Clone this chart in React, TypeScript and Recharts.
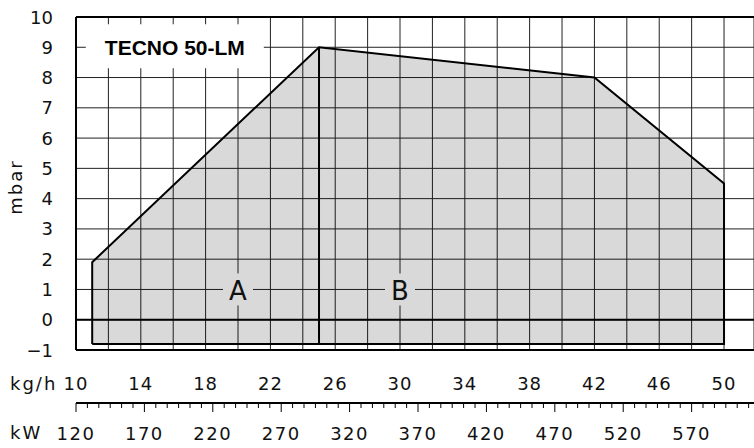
import React from "react";
import {
  Area,
  ComposedChart,
  CartesianGrid,
  Line,
  ReferenceDot,
  ReferenceLine,
  XAxis,
  YAxis,
} from "recharts";

// working field of the burner (kg/h vs mbar)
const envKg = [11, 25, 42, 50];
const envMbar = [1.9, 9, 8, 4.5];
const floorMbar = -0.8;
const splitKg = 25;

const kgGrid = [10, 12, 14, 16, 18, 20, 22, 24, 26, 28, 30, 32, 34, 36, 38, 40, 42, 44, 46, 48, 50];
const kgLabels = [10, 14, 18, 22, 26, 30, 34, 38, 42, 46, 50];
const mbarTicks = [-1, 0, 1, 2, 3, 4, 5, 6, 7, 8, 9, 10];
const kwMajor = [120, 170, 220, 270, 320, 370, 420, 470, 520, 570];

const zones = [
  { name: "A", kg: 20, mbar: 1 },
  { name: "B", kg: 30, mbar: 1 },
];
const title = "TECNO 50-LM";

const KG_MIN = 10;
const KG_MAX = 51.85;
const KW_MIN = 120;
const KW_MAX = 615.6;

const FONT = "'DejaVu Sans', 'Liberation Sans', sans-serif";
const INK = "#111";
const FILL = "#d9d9d9";

const envelope = envKg.map((kg, i) => ({ kg, mbar: envMbar[i] }));
const outline = [
  { kg: envKg[0], mbar: floorMbar },
  ...envelope,
  { kg: envKg[envKg.length - 1], mbar: floorMbar },
  { kg: envKg[0], mbar: floorMbar },
];

// minor kW ticks: 6 divisions per 50 kW
const kwTicks: number[] = [];
kwMajor.forEach((m) => {
  for (let i = 0; i < 6; i++) {
    const v = m + (i * 50) / 6;
    if (v <= KW_MAX) kwTicks.push(Math.round(v * 100) / 100);
  }
});
// empty series that only carries the kW range
const kwRange = [
  { kg: KW_MIN, none: null },
  { kg: KW_MAX, none: null },
];

const KgTick = (props: any) => {
  const { x, y, payload } = props;
  if (!kgLabels.includes(payload.value)) return <g />;
  return (
    <text x={x} y={y + 33} textAnchor="middle" dominantBaseline="central" fontFamily={FONT} fontSize={18} fill={INK} letterSpacing={1}>
      {payload.value}
    </text>
  );
};

const KwTick = (props: any) => {
  const { x, y, payload } = props;
  const major = kwMajor.includes(payload.value);
  return (
    <g>
      <line x1={x} x2={x} y1={y} y2={y + (major ? 9 : 5)} stroke="#000" strokeWidth={1} />
      {major && (
        <text x={x} y={y + 30} textAnchor="middle" dominantBaseline="central" fontFamily={FONT} fontSize={18} fill={INK} letterSpacing={1.5}>
          {payload.value}
        </text>
      )}
    </g>
  );
};

const MbarTick = (props: any) => {
  const { x, y, payload } = props;
  const v = payload.value;
  return (
    <text x={x - 23} y={y} textAnchor="end" dominantBaseline="central" fontFamily={FONT} fontSize={18} fill={INK}>
      {v < 0 ? `\u2212${Math.abs(v)}` : v}
    </text>
  );
};

const ZoneLabel = (props: any) => {
  const { cx, cy, name } = props;
  return (
    <g>
      <rect x={cx - 15} y={cy - 16} width={30} height={32} fill={FILL} />
      <text x={cx} y={cy + 11} textAnchor="middle" fontFamily={FONT} fontSize={26} fill={INK}>
        {name}
      </text>
    </g>
  );
};

const TitleBox = (props: any) => {
  const { cx, cy } = props;
  return (
    <g>
      <rect x={cx - 89} y={cy - 23} width={178} height={44} fill="#fff" />
      <text x={cx} y={cy + 8} textAnchor="middle" fontFamily="'Liberation Sans', Arial, sans-serif" fontWeight="bold" fontSize={21} fill="#000">
        {title}
      </text>
    </g>
  );
};

export default function App() {
  return (
    <div style={{ position: "absolute", left: 0, top: 0, background: "#fff" }}>
      <ComposedChart width={754} height={448} margin={{ top: 17, right: 0, left: 0, bottom: 0 }}>
        <CartesianGrid stroke="#222" strokeWidth={1} />
        <XAxis
          dataKey="kg"
          type="number"
          domain={[KG_MIN, KG_MAX]}
          allowDataOverflow
          ticks={kgGrid}
          interval={0}
          height={53}
          axisLine={false}
          tickLine={false}
          tickSize={0}
          tickMargin={0}
          tick={<KgTick />}
        />
        <XAxis
          xAxisId="kw"
          dataKey="kg"
          type="number"
          domain={[KW_MIN, KW_MAX]}
          allowDataOverflow
          ticks={kwTicks}
          interval={0}
          height={45}
          axisLine={{ stroke: "#000", strokeWidth: 2 }}
          tickLine={false}
          tickSize={0}
          tickMargin={0}
          tick={<KwTick />}
        />
        <YAxis
          type="number"
          domain={[-1, 10]}
          allowDataOverflow
          ticks={mbarTicks}
          interval={0}
          width={76}
          axisLine={false}
          tickLine={false}
          tickSize={0}
          tickMargin={0}
          tick={<MbarTick />}
        />
        <Area
          data={envelope}
          dataKey="mbar"
          type="linear"
          baseValue={floorMbar}
          fill="#000"
          fillOpacity={0.15}
          stroke="none"
          isAnimationActive={false}
        />
        <Line
          xAxisId="kw"
          data={kwRange}
          dataKey="none"
          stroke="none"
          dot={false}
          legendType="none"
          isAnimationActive={false}
        />
        <ReferenceLine y={10} stroke="#000" strokeWidth={2} />
        <ReferenceLine y={0} stroke="#000" strokeWidth={2} />
        <ReferenceLine y={-1} stroke="#000" strokeWidth={2} />
        <ReferenceLine x={KG_MIN} stroke="#000" strokeWidth={2} />
        <ReferenceLine
          segment={[
            { x: splitKg, y: floorMbar },
            { x: splitKg, y: envMbar[1] },
          ]}
          stroke="#000"
          strokeWidth={2}
        />
        <Line
          data={outline}
          dataKey="mbar"
          type="linear"
          stroke="#000"
          strokeWidth={2}
          dot={false}
          isAnimationActive={false}
        />
        {zones.map((z) => (
          <ReferenceDot key={z.name} x={z.kg} y={z.mbar} r={0} shape={(p: any) => <ZoneLabel {...p} name={z.name} />} />
        ))}
        <ReferenceDot x={16.1} y={9} r={0} shape={(p: any) => <TitleBox {...p} />} />
        <text x={10} y={383} dominantBaseline="central" fontFamily={FONT} fontSize={18} fill={INK} letterSpacing={2}>
          kg/h
        </text>
        <text x={10} y={432} dominantBaseline="central" fontFamily={FONT} fontSize={18} fill={INK} letterSpacing={2}>
          kW
        </text>
        <text
          x={15}
          y={187}
          transform="rotate(-90 15 187)"
          textAnchor="middle"
          dominantBaseline="central"
          fontFamily={FONT}
          fontSize={18}
          fill={INK}
          letterSpacing={2}
        >
          mbar
        </text>
      </ComposedChart>
    </div>
  );
}
